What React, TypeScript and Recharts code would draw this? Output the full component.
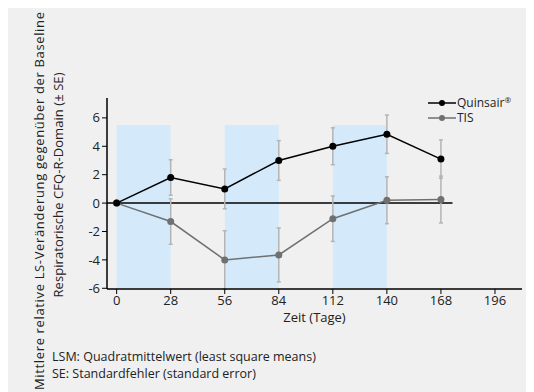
import React from "react";
import {
  ComposedChart,
  Line,
  XAxis,
  YAxis,
  ErrorBar,
  ReferenceArea,
  ReferenceLine,
  Label,
} from "recharts";

// Zeitpunkte (Tage)
const days = [0, 28, 56, 84, 112, 140, 168];
// LSM-Veränderung Quinsair und TIS, mit Standardfehler
const quinsair = [0, 1.8, 1.0, 3.0, 4.0, 4.85, 3.1];
const quinsairSE = [0, 1.25, 1.4, 1.4, 1.3, 1.35, 1.35];
const tis = [0, -1.3, -4.0, -3.65, -1.1, 0.2, 0.25];
const tisSE = [0, 1.6, 2.05, 1.9, 1.6, 1.65, 1.65];

const xTicks = [0, 28, 56, 84, 112, 140, 168, 196];
const yTicks = [-6, -4, -2, 0, 2, 4, 6];
// Behandlungszyklen (on-Phasen)
const shadedFrom = [0, 56, 112];
const shadedTo = [28, 84, 140];

const FONT = "'Open Sans', sans-serif";
const BLUE = "#d4eafa";
const GREY = "#707070";
const ERR = "#b4b4b4";

const data = days.map((d, i) => ({
  day: d,
  q: quinsair[i],
  qErr: quinsairSE[i],
  t: tis[i],
  tErr: tisSE[i],
}));

function YLabel() {
  return (
    <g fontFamily={FONT} fontSize={13} fill="#222">
      <text
        x={31}
        y={193}
        textAnchor="middle"
        dominantBaseline="central"
        textLength={378}
        lengthAdjust="spacing"
        transform="rotate(-90 31 193)"
      >
        Mittlere relative LS-Veränderung gegenüber der Baseline
      </text>
      <text
        x={50}
        y={177}
        textAnchor="middle"
        dominantBaseline="central"
        textLength={225}
        lengthAdjust="spacing"
        transform="rotate(-90 50 177)"
      >
        Respiratorische CFQ-R-Domain (± SE)
      </text>
    </g>
  );
}

function LegendItem({ color, label }: { color: string; label: React.ReactNode }) {
  return (
    <div style={{ display: "flex", alignItems: "center", height: 15 }}>
      <svg width={28} height={10}>
        <line x1={0} y1={5} x2={28} y2={5} stroke={color} strokeWidth={1.5} />
        <circle cx={14} cy={5} r={3} fill={color} />
      </svg>
      <span style={{ marginLeft: 1, lineHeight: "13px" }}>{label}</span>
    </div>
  );
}

export default function App() {
  return (
    <div
      style={{
        position: "relative",
        width: 526,
        height: 384,
        background: "#f0f0f0",
        fontFamily: FONT,
        color: "#222",
      }}
    >
      <ComposedChart
        width={526}
        height={384}
        data={data}
        margin={{ top: 90, right: 12, bottom: 73, left: 0 }}
      >
        {shadedFrom.map((x1, i) => (
          <ReferenceArea
            key={i}
            x1={x1}
            x2={shadedTo[i]}
            y1={-6}
            y2={5.5}
            fill={BLUE}
            fillOpacity={1}
            stroke="none"
          />
        ))}
        <XAxis
          dataKey="day"
          type="number"
          domain={[-5, 210]}
          ticks={xTicks}
          height={30}
          axisLine={{ stroke: "#000", strokeWidth: 1.5 }}
          tickLine={{ stroke: "#000", strokeWidth: 1 }}
          tickSize={5}
          tick={{ fill: "#222", fontSize: 13, fontFamily: FONT }}
        >
          <Label
            value="Zeit (Tage)"
            position="bottom"
            offset={-6}
            style={{ fill: "#222", fontSize: 13, fontFamily: FONT }}
          />
        </XAxis>
        <YAxis
          type="number"
          domain={[-6, 7.4]}
          ticks={yTicks}
          width={99}
          axisLine={{ stroke: "#000", strokeWidth: 1.5 }}
          tickLine={{ stroke: "#000", strokeWidth: 1 }}
          tickSize={5}
          tick={{ fill: "#222", fontSize: 13, fontFamily: FONT }}
          label={<YLabel />}
        />
        <ReferenceLine
          segment={[
            { x: -5, y: 0 },
            { x: 174, y: 0 },
          ]}
          stroke="#000"
          strokeWidth={1.5}
        />
        <Line
          dataKey="t"
          stroke={GREY}
          strokeWidth={1.5}
          dot={{ r: 3.5, fill: GREY, stroke: GREY, strokeWidth: 0 }}
          isAnimationActive={false}
        >
          <ErrorBar dataKey="tErr" direction="y" stroke={ERR} strokeWidth={1.5} width={2} />
        </Line>
        <Line
          dataKey="q"
          stroke="#000"
          strokeWidth={1.5}
          dot={{ r: 3.5, fill: "#000", stroke: "#000", strokeWidth: 0 }}
          isAnimationActive={false}
        >
          <ErrorBar dataKey="qErr" direction="y" stroke={ERR} strokeWidth={1.5} width={2} />
        </Line>
      </ComposedChart>

      <div style={{ position: "absolute", left: 420, top: 87, fontSize: 12 }}>
        <LegendItem
          color="#000"
          label={
            <>
              Quinsair
              <span style={{ fontSize: 8, position: "relative", top: -4 }}>®</span>
            </>
          }
        />
        <LegendItem color={GREY} label="TIS" />
      </div>

      <div style={{ position: "absolute", left: 44, top: 340, fontSize: 12.5, lineHeight: "17px" }}>
        <div>LSM: Quadratmittelwert (least square means)</div>
        <div>SE: Standardfehler (standard error)</div>
      </div>
    </div>
  );
}
